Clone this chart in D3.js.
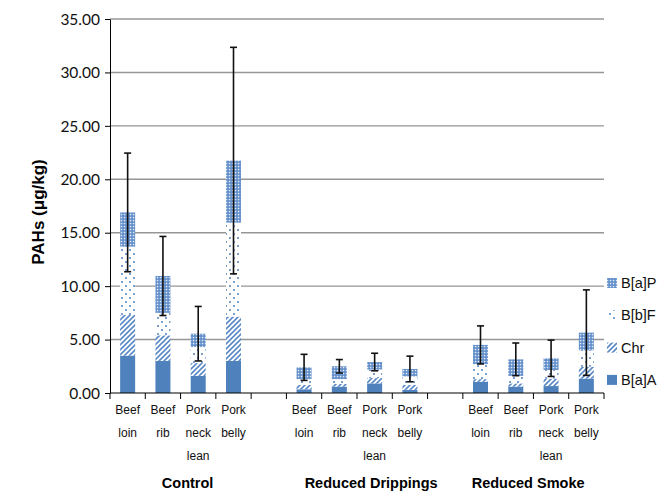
<!DOCTYPE html>
<html>
<head>
<meta charset="utf-8">
<script src="https://cdn.jsdelivr.net/npm/d3@7/dist/d3.min.js"></script>
<style>
  html, body { margin: 0; padding: 0; background: #fff; }
  svg { display: block; }
</style>
</head>
<body>
<div id="chart"></div>
<script>
// Treatment groups and meat cuts along the category axis
const groups = ["Control", "Reduced Drippings", "Reduced Smoke"];
const cuts = ["Beef loin", "Beef rib", "Pork neck lean", "Pork belly"];
const cutLines = [["Beef", "loin"], ["Beef", "rib"], ["Pork", "neck", "lean"], ["Pork", "belly"]];

// Stacked PAH components (µg/kg), one value per group × cut, in group order
const series = ["B[a]A", "Chr", "B[b]F", "B[a]P"];
const baA = [3.5, 3.0, 1.6, 3.0,   0.35, 0.6, 0.9, 0.3,   1.05, 0.6, 0.65, 1.35];
const chr = [3.8, 2.4, 1.2, 4.15,  0.4, 0.25, 0.5, 0.45,  0.25, 0.3, 0.7, 1.1];
const bbF = [6.4, 2.1, 1.5, 8.8,   0.55, 0.45, 0.8, 0.8,  1.4, 0.7, 0.8, 1.55];
const baP = [3.2, 3.45, 1.25, 5.8, 1.1, 1.2, 0.7, 0.7,    1.8, 1.55, 1.1, 1.65];
// Error (± sum) drawn at the top of each stack
const errors = [5.55, 3.7, 2.55, 10.6, 1.22, 0.63, 0.82, 1.2, 1.78, 1.53, 1.7, 4.0];

const yTicks = [0, 5, 10, 15, 20, 25, 30, 35];
const yTitle = "PAHs (μg/kg)";

const W = 662, H = 493;
const margin = { left: 110, right: 58, top: 19, bottom: 100 };
const blue = "#4f81bd";

// Build the table of rows
const rows = [];
groups.forEach((g, gi) => {
  cuts.forEach((c, ci) => {
    const i = gi * cuts.length + ci;
    rows.push({ key: g + "|" + c, group: g, cut: ci,
      "B[a]A": baA[i], "Chr": chr[i], "B[b]F": bbF[i], "B[a]P": baP[i], err: errors[i] });
  });
});

// Category slots, with a blank slot between groups
const slots = [];
groups.forEach((g, gi) => {
  cuts.forEach(c => slots.push(g + "|" + c));
  if (gi < groups.length - 1) slots.push("gap" + gi);
});

const svg = d3.select("#chart").append("svg").attr("width", W).attr("height", H);

const x = d3.scaleBand().domain(slots).range([margin.left, W - margin.right]).padding(0);
const y = d3.scaleLinear().domain([0, 35]).range([H - margin.bottom, margin.top]);

// Fill patterns
const defs = svg.append("defs");
// B[a]P: dense mesh
const pBaP = defs.append("pattern").attr("id", "pBaP").attr("patternUnits", "userSpaceOnUse")
  .attr("width", 3).attr("height", 3);
pBaP.append("rect").attr("width", 3).attr("height", 3).attr("fill", "#5e8bc9");
pBaP.append("rect").attr("x", 0.8).attr("y", 0.8).attr("width", 1.5).attr("height", 1.5).attr("fill", "#e4ecf7");
// B[b]F: sparse dots
const pBbF = defs.append("pattern").attr("id", "pBbF").attr("patternUnits", "userSpaceOnUse")
  .attr("width", 8).attr("height", 8);
pBbF.append("rect").attr("width", 8).attr("height", 8).attr("fill", "#fff");
pBbF.append("circle").attr("cx", 2).attr("cy", 2).attr("r", 1).attr("fill", blue);
pBbF.append("circle").attr("cx", 6).attr("cy", 6).attr("r", 1).attr("fill", blue);
// Chr: wide diagonal hatch
const pChr = defs.append("pattern").attr("id", "pChr").attr("patternUnits", "userSpaceOnUse")
  .attr("width", 5).attr("height", 5);
pChr.append("rect").attr("width", 5).attr("height", 5).attr("fill", "#fff");
pChr.append("path").attr("d", "M-1,6 L6,-1 M-1,1 L1,-1 M4,6 L6,4")
  .attr("stroke", "#5b89c6").attr("stroke-width", 1.6);

const fills = { "B[a]A": blue, "Chr": "url(#pChr)", "B[b]F": "url(#pBbF)", "B[a]P": "url(#pBaP)" };

// Gridlines
svg.append("g").selectAll("line").data(yTicks.filter(d => d > 0)).join("line")
  .attr("x1", margin.left).attr("x2", W - margin.right)
  .attr("y1", d => y(d)).attr("y2", d => y(d))
  .attr("stroke", "#969696").attr("stroke-width", 1.4);

// Stacked bars
const stack = d3.stack().keys(series)(rows);
const barW = 15;
svg.append("g").selectAll("g").data(stack).join("g")
  .attr("fill", d => fills[d.key])
  .selectAll("rect").data(d => d).join("rect")
  .attr("x", d => x(d.data.key) + x.bandwidth() / 2 - barW / 2)
  .attr("width", barW)
  .attr("y", d => y(d[1]))
  .attr("height", d => y(d[0]) - y(d[1]));

// Error bars
const eb = svg.append("g").attr("stroke", "#111").attr("stroke-width", 1.6);
rows.forEach(r => {
  const total = series.reduce((s, k) => s + r[k], 0);
  const cx = x(r.key) + x.bandwidth() / 2;
  const y1 = y(total + r.err), y0 = y(total - r.err);
  eb.append("line").attr("x1", cx).attr("x2", cx).attr("y1", y1).attr("y2", y0);
  eb.append("line").attr("x1", cx - 3.5).attr("x2", cx + 3.5).attr("y1", y1).attr("y2", y1);
  eb.append("line").attr("x1", cx - 3.5).attr("x2", cx + 3.5).attr("y1", y0).attr("y2", y0);
});

// Y axis
const yAxis = d3.axisLeft(y).tickValues(yTicks).tickFormat(d3.format(".2f")).tickSize(5).tickSizeOuter(0);
const gy = svg.append("g").attr("transform", `translate(${margin.left},0)`).call(yAxis);
gy.select(".domain").attr("stroke", "#000");
gy.selectAll(".tick line").attr("stroke", "#000");
gy.selectAll(".tick text").attr("x", -10).attr("dy", "0.34em")
  .attr("font-family", "Lato, 'Open Sans', sans-serif").attr("font-size", 15.5).attr("fill", "#111");

// X axis line with ticks at every slot boundary
const xBase = y(0);
svg.append("line").attr("x1", margin.left).attr("x2", W - margin.right)
  .attr("y1", xBase).attr("y2", xBase).attr("stroke", "#000").attr("stroke-width", 1.2);
const bounds = slots.map(s => x(s)).concat([x(slots[slots.length - 1]) + x.bandwidth()]);
svg.append("g").selectAll("line").data(bounds).join("line")
  .attr("x1", d => d).attr("x2", d => d).attr("y1", xBase).attr("y2", xBase + 6)
  .attr("stroke", "#000").attr("stroke-width", 1);

// Cut labels (multi-line)
const lab = svg.append("g").attr("font-family", "'Liberation Sans', Arial, sans-serif")
  .attr("font-size", 12).attr("fill", "#111").attr("text-anchor", "middle");
rows.forEach(r => {
  const cx = x(r.key) + x.bandwidth() / 2;
  cutLines[r.cut].forEach((t, li) => {
    lab.append("text").attr("x", cx).attr("y", 414 + li * 23).text(t);
  });
});

// Group labels
const groupOffsets = [2.2, 7.4, 11.85];
svg.append("g").attr("font-family", "'Liberation Sans', Arial, sans-serif")
  .attr("font-size", 14.5).attr("font-weight", "bold").attr("fill", "#000").attr("text-anchor", "middle")
  .selectAll("text").data(groups).join("text")
  .attr("x", (d, i) => margin.left + groupOffsets[i] * x.bandwidth())
  .attr("y", 488).text(d => d);

// Y title
svg.append("text")
  .attr("transform", `translate(38,${(y(0) + y(35)) / 2 + 6}) rotate(-90)`)
  .attr("text-anchor", "middle").attr("dominant-baseline", "central")
  .attr("font-family", "'Liberation Sans', Arial, sans-serif").attr("font-size", 17)
  .attr("font-weight", "bold").attr("fill", "#000").text(yTitle);

// Legend (top series first)
const legend = svg.append("g").attr("font-family", "'Liberation Sans', Arial, sans-serif")
  .attr("font-size", 14.5).attr("fill", "#111");
series.slice().reverse().forEach((s, i) => {
  const ly = 283 + i * 32.3;
  legend.append("rect").attr("x", 607).attr("y", ly - 5).attr("width", 10).attr("height", 10)
    .attr("fill", fills[s]);
  legend.append("text").attr("x", 621).attr("y", ly).attr("dy", "0.35em").text(s);
});
</script>
</body>
</html>
